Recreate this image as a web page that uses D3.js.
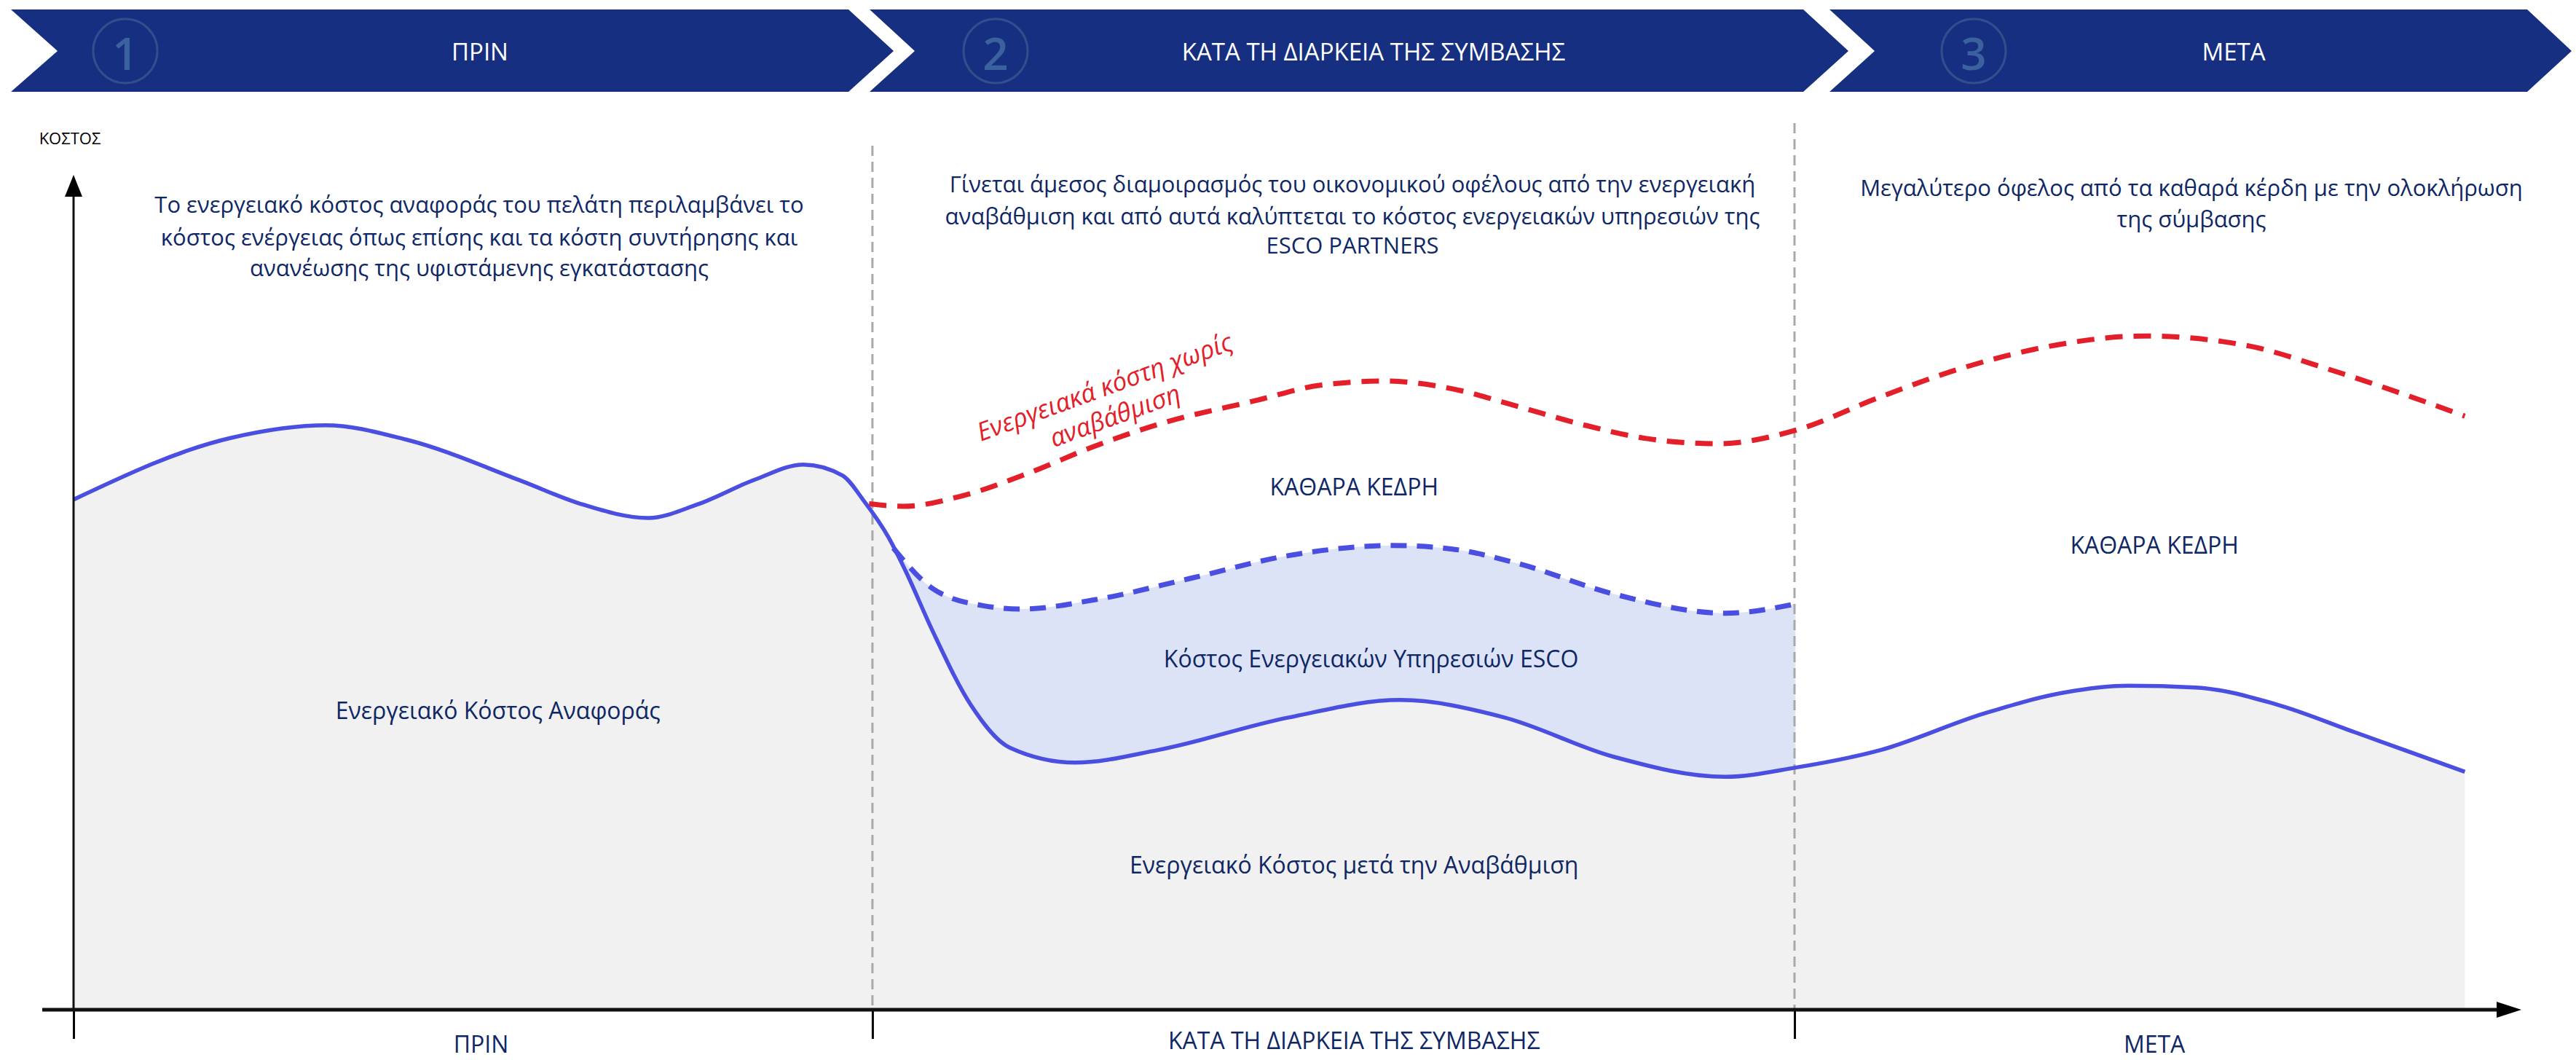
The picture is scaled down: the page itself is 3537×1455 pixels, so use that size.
<!DOCTYPE html>
<html>
<head>
<meta charset="utf-8">
<script src="https://cdn.jsdelivr.net/npm/d3@7"></script>
<style>
html, body { margin: 0; padding: 0; background: #fff; }
svg { display: block; font-family: "Open Sans", sans-serif; }
</style>
</head>
<body>
<svg id="chart" width="3537" height="1455"></svg>
<script>
// phases along the time axis (x in 0..100 units)
var phases = ['ΠΡΙΝ', 'ΚΑΤΑ ΤΗ ΔΙΑΡΚΕΙΑ ΤΗΣ ΣΥΜΒΑΣΗΣ', 'ΜΕΤΑ'];
var phaseEdges = [0, 32.94, 70.96];
var phaseLabelX = [16.8, 52.8, 85.8];

// energy cost of the client (solid blue line)
var costX = [0.0, 6.5, 10.4, 13.7, 18.5, 20.9, 23.7, 25.7, 28.1, 30.1, 31.7, 32.6, 33.6, 34.3, 35.4, 37.0, 38.6, 41.3, 44.7, 50.1, 54.7, 59.0, 63.5, 68.1, 71.0, 74.5, 78.8, 82.1, 84.7, 87.5, 90.8, 94.1, 98.6];
var costY = [61.1, 68.5, 70.0, 68.3, 63.3, 60.6, 58.9, 60.5, 63.5, 65.3, 64.0, 60.9, 56.6, 52.6, 45.5, 36.5, 31.4, 29.6, 31.1, 35.0, 37.1, 35.0, 30.3, 27.9, 29.0, 31.1, 35.5, 38.0, 38.8, 38.6, 36.6, 33.2, 28.5];

// cost + ESCO services (blue dashed line)
var escoX = [33.8, 35.4, 37.5, 39.1, 42.1, 46.1, 50.1, 54.4, 56.8, 59.5, 63.5, 68.1, 71.0];
var escoY = [55.3, 50.5, 48.4, 48.0, 49.1, 51.7, 54.4, 55.6, 55.2, 53.5, 49.8, 47.5, 48.6];

// energy cost without upgrade (red dashed line)
var noUpgradeX = [32.8, 34.2, 36.7, 39.4, 42.1, 44.7, 48.8, 51.4, 54.1, 56.8, 59.5, 62.2, 64.9, 67.8, 71.0, 74.5, 77.7, 81.0, 85.4, 89.7, 93.0, 96.2, 98.6];
var noUpgradeY = [60.6, 60.3, 61.6, 64.3, 67.5, 70.1, 73.0, 74.8, 75.3, 74.4, 72.3, 70.1, 68.4, 67.8, 69.4, 73.4, 76.7, 79.2, 80.7, 79.5, 76.7, 73.6, 71.1];

var paragraphs = [
    ['Το ενεργειακό κόστος αναφοράς του πελάτη περιλαμβάνει το', 'κόστος ενέργειας όπως επίσης και τα κόστη συντήρησης και', 'ανανέωσης της υφιστάμενης εγκατάστασης'],
    ['Γίνεται άμεσος διαμοιρασμός του οικονομικού οφέλους από την ενεργειακή', 'αναβάθμιση και από αυτά καλύπτεται το κόστος ενεργειακών υπηρεσιών της', 'ESCO PARTNERS'],
    ['Μεγαλύτερο όφελος από τα καθαρά κέρδη με την ολοκλήρωση', 'της σύμβασης']
];

var navy = '#0f2765';
var lineBlue = '#4a4fe2';
var red = '#e3202a';

var svg = d3.select('#chart');

var x = d3.scaleLinear().domain([0, 100]).range([101, 3431]);
var y = d3.scaleLinear().domain([0, 100]).range([1386, 240]);

function zip(xs, ys) {
    return xs.map(function(v, i) { return [v, ys[i]]; });
}
var cost = zip(costX, costY);
var esco = zip(escoX, escoY);
var noUpgrade = zip(noUpgradeX, noUpgradeY);

// ---- header chevrons
var header = svg.append('g');
var chev = [[15, 79, 1165, 1227], [1194, 1256, 2476, 2538], [2512, 2574, 3470, 3531]];
var hTop = 13, hBot = 126, hMid = 70;
var circleX = [172, 1367, 2710];
var headerTextX = [659, 1886, 3067];
chev.forEach(function(c, i) {
    header.append('path')
        .attr('d', 'M' + c[0] + ',' + hTop + 'L' + c[2] + ',' + hTop + 'L' + c[3] + ',' + hMid +
            'L' + c[2] + ',' + hBot + 'L' + c[0] + ',' + hBot + 'L' + c[1] + ',' + hMid + 'Z')
        .attr('fill', '#172f80');
    header.append('circle')
        .attr('cx', circleX[i]).attr('cy', hMid).attr('r', 44)
        .attr('fill', 'none').attr('stroke', '#314f8c').attr('stroke-width', 3);
    header.append('text')
        .attr('x', circleX[i]).attr('y', hMid + 2)
        .attr('text-anchor', 'middle').attr('dominant-baseline', 'central')
        .attr('font-size', 62).attr('font-weight', 600)
        .attr('fill', '#3b619f')
        .text(i + 1);
    header.append('text')
        .attr('x', headerTextX[i]).attr('y', hMid)
        .attr('text-anchor', 'middle').attr('dominant-baseline', 'central')
        .attr('font-size', 33).attr('fill', '#fff')
        .text(phases[i]);
});

// ---- areas
var areaGen = d3.area()
    .x(function(d) { return x(d[0]); })
    .y0(y(0))
    .y1(function(d) { return y(d[1]); })
    .curve(d3.curveMonotoneX);

var lineGen = d3.line()
    .x(function(d) { return x(d[0]); })
    .y(function(d) { return y(d[1]); })
    .curve(d3.curveMonotoneX);

svg.append('path').attr('d', areaGen(esco)).attr('fill', '#dce3f7');
svg.append('path').attr('d', areaGen(cost)).attr('fill', '#f1f1f1');

// ---- phase separators
var sepTop = [200, 169];
[phaseEdges[1], phaseEdges[2]].forEach(function(e, i) {
    svg.append('line')
        .attr('x1', x(e)).attr('x2', x(e))
        .attr('y1', sepTop[i]).attr('y2', y(0))
        .attr('stroke', '#a9a9a9').attr('stroke-width', 3)
        .attr('stroke-dasharray', '14,8');
});

// ---- lines
svg.append('path').attr('d', lineGen(esco))
    .attr('fill', 'none').attr('stroke', lineBlue).attr('stroke-width', 7)
    .attr('stroke-dasharray', '22,14');
svg.append('path').attr('d', lineGen(noUpgrade))
    .attr('fill', 'none').attr('stroke', red).attr('stroke-width', 7)
    .attr('stroke-dasharray', '24,15');
svg.append('path').attr('d', lineGen(cost))
    .attr('fill', 'none').attr('stroke', lineBlue).attr('stroke-width', 5.5);

// ---- axes
var axis = d3.axisBottom(x)
    .tickValues(phaseEdges)
    .tickSize(40)
    .tickSizeOuter(0)
    .tickFormat('');
var gx = svg.append('g').attr('transform', 'translate(0,' + y(0) + ')').call(axis);
gx.select('.domain').remove();
gx.selectAll('.tick line').attr('stroke', '#000').attr('stroke-width', 3);

svg.append('line')
    .attr('x1', 58).attr('x2', 3436)
    .attr('y1', y(0)).attr('y2', y(0))
    .attr('stroke', '#111').attr('stroke-width', 5);
svg.append('path')
    .attr('d', 'M3428,' + (y(0) - 11) + 'L3462,' + y(0) + 'L3428,' + (y(0) + 11) + 'Z')
    .attr('fill', '#000');
svg.append('line')
    .attr('x1', x(0)).attr('x2', x(0))
    .attr('y1', y(0)).attr('y2', 262)
    .attr('stroke', '#111').attr('stroke-width', 3);
svg.append('path')
    .attr('d', 'M' + (x(0) - 12) + ',270L' + x(0) + ',240L' + (x(0) + 12) + ',270Z')
    .attr('fill', '#000');

svg.append('text')
    .attr('x', 96).attr('y', 189)
    .attr('text-anchor', 'middle').attr('dominant-baseline', 'central')
    .attr('font-size', 22).attr('fill', '#000')
    .text('ΚΟΣΤΟΣ');

// bottom labels
var bottomY = [1432, 1427, 1432];
phases.forEach(function(p, i) {
    svg.append('text')
        .attr('x', x(phaseLabelX[i])).attr('y', bottomY[i])
        .attr('text-anchor', 'middle').attr('dominant-baseline', 'central')
        .attr('font-size', 32).attr('fill', navy)
        .text(p);
});

// ---- paragraphs
var parX = [658, 1857, 3009];
var parY = [[280, 325, 367], [252, 296, 336], [257, 300]];
paragraphs.forEach(function(lines, i) {
    lines.forEach(function(t, j) {
        svg.append('text')
            .attr('x', parX[i]).attr('y', parY[i][j])
            .attr('text-anchor', 'middle').attr('dominant-baseline', 'central')
            .attr('font-size', 31).attr('fill', navy)
            .text(t);
    });
});

// ---- area labels
var labels = [
    {t: 'ΚΑΘΑΡΑ ΚΕΔΡΗ', x: 52.8, y: 62.7},
    {t: 'ΚΑΘΑΡΑ ΚΕΔΡΗ', x: 85.8, y: 55.7},
    {t: 'Κόστος Ενεργειακών Υπηρεσιών ESCO', x: 53.5, y: 42.1},
    {t: 'Ενεργειακό Κόστος Αναφοράς', x: 17.5, y: 35.9},
    {t: 'Ενεργειακό Κόστος μετά την Αναβάθμιση', x: 52.8, y: 17.4}
];
labels.forEach(function(l) {
    svg.append('text')
        .attr('x', x(l.x)).attr('y', y(l.y))
        .attr('text-anchor', 'middle').attr('dominant-baseline', 'central')
        .attr('font-size', 32).attr('fill', navy)
        .text(l.t);
});

var redLabel = svg.append('g')
    .attr('transform', 'translate(' + x(42.5) + ',' + y(74.7) + ') rotate(-20)');
redLabel.append('text')
    .attr('text-anchor', 'middle').attr('dominant-baseline', 'central')
    .attr('font-size', 35).attr('font-style', 'italic').attr('fill', red)
    .text('Ενεργειακά κόστη χωρίς');
redLabel.append('text')
    .attr('y', 42)
    .attr('text-anchor', 'middle').attr('dominant-baseline', 'central')
    .attr('font-size', 35).attr('font-style', 'italic').attr('fill', red)
    .text('αναβάθμιση');
</script>
</body>
</html>
